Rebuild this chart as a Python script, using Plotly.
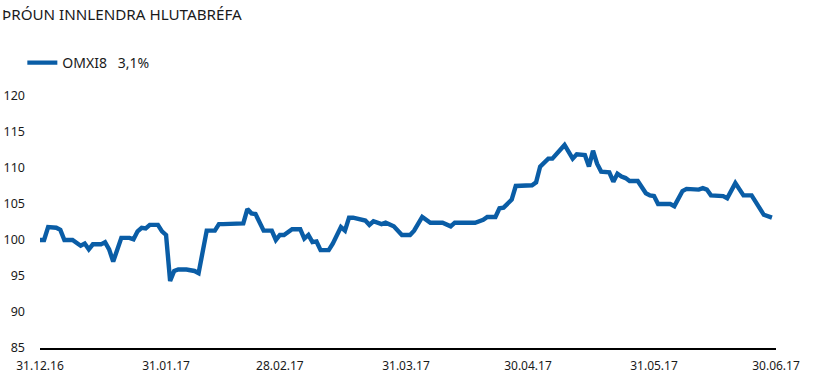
import plotly.graph_objects as go

dates = [
    "2016-12-31", "2017-01-01", "2017-01-02", "2017-01-04", "2017-01-05", "2017-01-06",
    "2017-01-08", "2017-01-09", "2017-01-10", "2017-01-11", "2017-01-12", "2017-01-13",
    "2017-01-15", "2017-01-16", "2017-01-17", "2017-01-18", "2017-01-19", "2017-01-20",
    "2017-01-22", "2017-01-23", "2017-01-24", "2017-01-25", "2017-01-26", "2017-01-27",
    "2017-01-29", "2017-01-30", "2017-01-31", "2017-02-01", "2017-02-02", "2017-02-03",
    "2017-02-05", "2017-02-07", "2017-02-08", "2017-02-09", "2017-02-10", "2017-02-12",
    "2017-02-13", "2017-02-14", "2017-02-16", "2017-02-19", "2017-02-20", "2017-02-21",
    "2017-02-22", "2017-02-24", "2017-02-26", "2017-02-27", "2017-02-28", "2017-03-01",
    "2017-03-03", "2017-03-05", "2017-03-06", "2017-03-07", "2017-03-08", "2017-03-09",
    "2017-03-10", "2017-03-12", "2017-03-13", "2017-03-15", "2017-03-16", "2017-03-17",
    "2017-03-18", "2017-03-21", "2017-03-22", "2017-03-23", "2017-03-25", "2017-03-26",
    "2017-03-28", "2017-03-29", "2017-03-30", "2017-04-01", "2017-04-02", "2017-04-04",
    "2017-04-06", "2017-04-09", "2017-04-11", "2017-04-12", "2017-04-17", "2017-04-19",
    "2017-04-20", "2017-04-22", "2017-04-23", "2017-04-24", "2017-04-26", "2017-04-27",
    "2017-05-01", "2017-05-02", "2017-05-03", "2017-05-05", "2017-05-06", "2017-05-09",
    "2017-05-11", "2017-05-12", "2017-05-14", "2017-05-15", "2017-05-16", "2017-05-17",
    "2017-05-18", "2017-05-20", "2017-05-21", "2017-05-22", "2017-05-23", "2017-05-24",
    "2017-05-25", "2017-05-27", "2017-05-29", "2017-05-30", "2017-05-31", "2017-06-01",
    "2017-06-04", "2017-06-05", "2017-06-07", "2017-06-08", "2017-06-11", "2017-06-12",
    "2017-06-13", "2017-06-14", "2017-06-17", "2017-06-18", "2017-06-20", "2017-06-22",
    "2017-06-24", "2017-06-27", "2017-06-29",
]

omxi8 = [
    100.0, 100.0, 101.8, 101.7, 101.4, 100.0,
    100.0, 99.6, 99.2, 99.5, 98.7, 99.4,
    99.4, 99.7, 98.7, 97.0, 98.6, 100.3,
    100.3, 100.1, 101.2, 101.7, 101.6, 102.1,
    102.1, 101.2, 100.7, 94.3, 95.7, 95.9,
    95.9, 95.7, 95.4, 98.6, 101.3, 101.3,
    102.2, 102.2, 102.3, 102.3, 104.3, 103.7,
    103.6, 101.3, 101.3, 100.0, 100.7, 100.7,
    101.5, 101.5, 100.2, 100.7, 99.7, 99.8,
    98.6, 98.6, 99.5, 101.8, 101.3, 103.1,
    103.1, 102.7, 102.1, 102.6, 102.2, 102.4,
    101.9, 101.2, 100.7, 100.7, 101.3, 103.2,
    102.4, 102.4, 101.9, 102.4, 102.4, 102.8,
    103.2, 103.2, 104.4, 104.5, 105.6, 107.5,
    107.6, 108.0, 110.2, 111.3, 111.3, 113.2,
    111.3, 111.9, 111.8, 110.2, 112.4, 110.6,
    109.5, 109.4, 108.1, 109.2, 108.8, 108.6,
    108.2, 108.2, 106.5, 106.2, 106.1, 105.0,
    105.0, 104.7, 106.8, 107.1, 107.0, 107.2,
    107.0, 106.2, 106.1, 105.8, 107.9, 106.2,
    106.2, 103.5, 103.1,
]

tick_dates = ["2016-12-31", "2017-01-31", "2017-02-28", "2017-03-31",
              "2017-04-30", "2017-05-31", "2017-06-30"]
tick_labels = ["31.12.16", "31.01.17", "28.02.17", "31.03.17",
               "30.04.17", "31.05.17", "30.06.17"]
y_ticks = [85, 90, 95, 100, 105, 110, 115, 120]

series_name = "OMXI8\u00a0\u00a0\u00a03,1%"
title_text = "ÞRÓUN INNLENDRA HLUTABRÉFA"

FONT = "Noto Sans"
BLUE = "#0A5DA6"
TXT = "#1a1a1a"

fig = go.Figure()
fig.add_trace(go.Scatter(
    x=dates, y=omxi8, mode="lines", name=series_name,
    line=dict(color=BLUE, width=4.4),
    showlegend=True,
))

fig.update_layout(
    width=820, height=385,
    margin=dict(l=40, r=44, t=96, b=37, autoexpand=False),
    paper_bgcolor="white", plot_bgcolor="white",
    font=dict(family=FONT, size=12, color=TXT),
    title=dict(text=title_text, x=2 / 820, xref="container", xanchor="left",
               y=1 - 15 / 385, yref="container", yanchor="middle",
               font=dict(family=FONT, size=15.2, color=TXT)),
    showlegend=True,
    legend=dict(x=-0.024, xanchor="left", y=1.131, yanchor="middle",
                orientation="h", font=dict(family=FONT, size=14, color=TXT),
                bgcolor="rgba(0,0,0,0)"),
    xaxis=dict(
        type="date", automargin=False,
        range=["2016-12-31", "2017-06-30"],
        tickmode="array", tickvals=tick_dates, ticktext=tick_labels,
        showgrid=False, zeroline=False,
        showline=True, linecolor="black", linewidth=2,
        ticks="", ticklabelstandoff=6,
        tickfont=dict(family=FONT, size=12, color=TXT),
    ),
    yaxis=dict(
        automargin=False,
        range=[85, 120],
        tickmode="array", tickvals=y_ticks,
        showgrid=False, zeroline=False, showline=False,
        ticks="", ticklabelstandoff=14,
        tickfont=dict(family=FONT, size=12.5, color=TXT),
    ),
)

fig.write_html("out.html")
